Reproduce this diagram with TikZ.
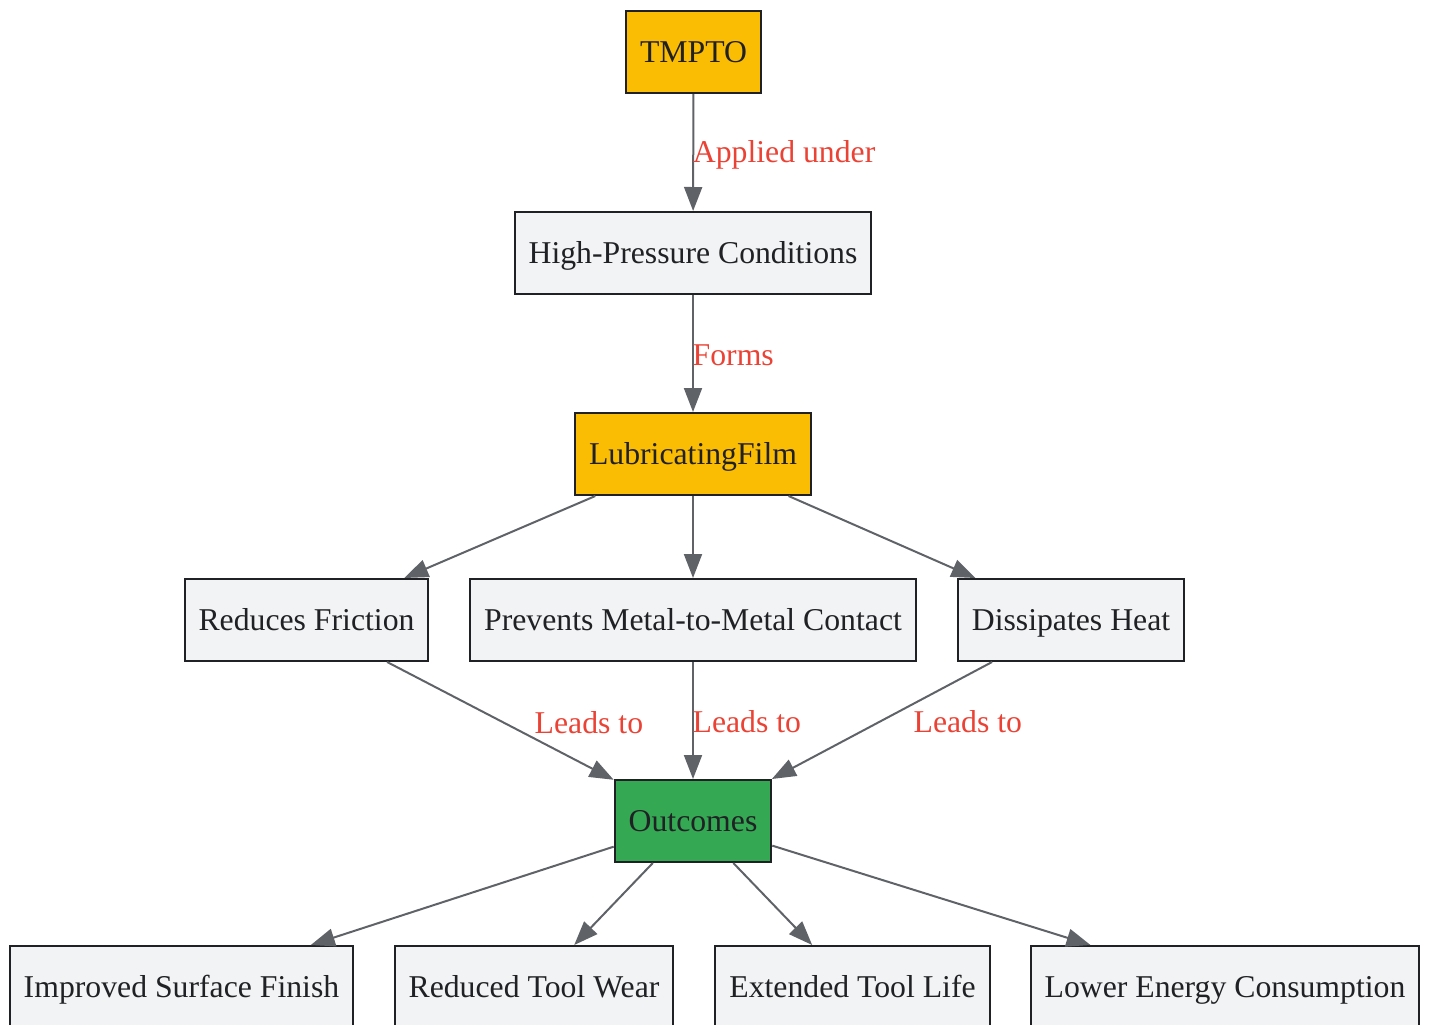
\documentclass[tikz,border=0pt]{standalone}
\usepackage{fontspec}
\setmainfont{Liberation Serif}
\usetikzlibrary{arrows.meta}
\definecolor{ylw}{HTML}{FBBC04}
\definecolor{grn}{HTML}{34A853}
\definecolor{lgray}{HTML}{F1F3F4}
\definecolor{edgec}{HTML}{5F6368}
\definecolor{lblred}{HTML}{EA4335}
\definecolor{bord}{HTML}{202124}
\tikzset{
  box/.style={draw=bord, line width=1.5pt, fill=lgray, text=bord,
    font=\fontsize{23.8pt}{28pt}\selectfont, inner xsep=10.5pt,
    minimum height=61.5pt, inner ysep=0pt, text height=15.7pt, text depth=0pt},
  ybox/.style={box, fill=ylw},
  gbox/.style={box, fill=grn},
  conn/.style={draw=edgec, line width=1.5pt,
    -{Triangle[length=18pt,width=13.5pt]}},
  lbl/.style={text=lblred, font=\fontsize{23.8pt}{28pt}\selectfont,
    inner sep=0pt, anchor=west, text height=15.7pt, text depth=0pt}
}
\begin{document}
\begin{tikzpicture}[x=0.75pt,y=-0.75pt]
\useasboundingbox (0,0) rectangle (1429,1025);
\node[ybox] (tmpto) at (693.5,52) {TMPTO};
\node[box] (hp) at (693,253) {High-Pressure Conditions};
\node[ybox] (lf) at (693,454) {LubricatingFilm};
\node[box] (rf) at (306.5,620) {Reduces Friction};
\node[box] (pm) at (693,620) {Prevents Metal-to-Metal Contact};
\node[box] (dh) at (1071,620) {Dissipates Heat};
\node[gbox] (out) at (693,821) {Outcomes};
\node[box] (isf) at (181.5,987) {Improved Surface Finish};
\node[box] (rtw) at (534,987) {Reduced Tool Wear};
\node[box] (etl) at (852.5,987) {Extended Tool Life};
\node[box] (lec) at (1225,987) {Lower Energy Consumption};

\draw[conn] (tmpto) -- node[lbl, pos=0.5, xshift=-1pt] {Applied under} (hp);
\draw[conn] (hp) -- node[lbl, pos=0.5, xshift=-1pt, yshift=-1pt] {Forms} (lf);
\draw[conn] (lf) -- (rf);
\draw[conn] (lf) -- (pm);
\draw[conn] (lf) -- (dh);
\draw[conn] (rf) -- node[lbl, pos=0.5, xshift=25pt, yshift=-1.5pt] {Leads to} (out);
\draw[conn] (pm) -- node[lbl, pos=0.5, xshift=-1pt, yshift=-1.5pt] {Leads to} (out);
\draw[conn] (dh) -- node[lbl, pos=0.5, xshift=23pt, yshift=-1.5pt] {Leads to} (out);
\draw[conn] (out) -- (isf);
\draw[conn] (out) -- (rtw);
\draw[conn] (out) -- (etl);
\draw[conn] (out) -- (lec);
\end{tikzpicture}
\end{document}
